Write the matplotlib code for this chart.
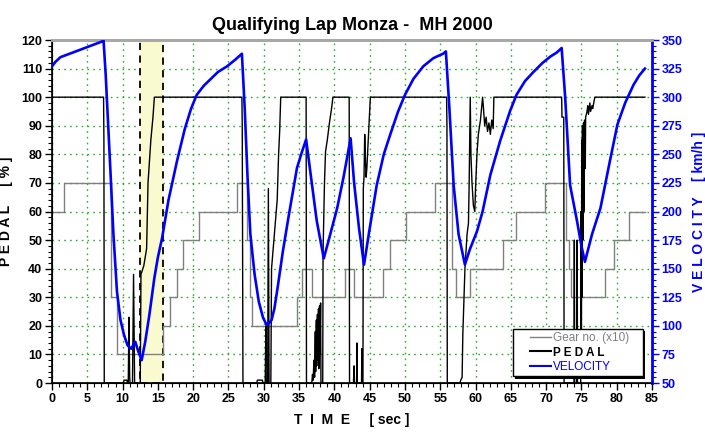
import matplotlib
matplotlib.use("Agg")
import matplotlib.pyplot as plt
import numpy as np
from matplotlib.patches import Rectangle
from matplotlib.lines import Line2D
from matplotlib.ticker import MultipleLocator

plt.rcParams['font.family'] = ['Liberation Sans', 'DejaVu Sans']

# ---------------- data ----------------
gear_t = [0, 1.7, 8.3, 9.2, 15.7, 16.7, 17.7, 18.6, 20.8, 26.2, 27.6, 28.0, 28.4,
          34.7, 35.4, 36.8, 41.5, 42.8, 46.9, 47.9, 50.2, 54.3, 56.6, 57.3, 59.2,
          63.9, 65.8, 69.9, 72.8, 73.2, 73.5, 78.3, 79.6, 81.7, 84.0]
gear_v = [60, 70, 30, 10, 20, 30, 40, 50, 60, 70, 50, 30, 20,
          30, 40, 30, 40, 30, 40, 50, 60, 70, 40, 30, 40,
          50, 60, 70, 50, 40, 30, 40, 50, 60, 60]

pedal_t = [0, 7.3, 7.35, 7.4, 10.1, 10.2, 10.6, 10.7, 10.8, 10.9, 11.0, 11.05, 11.4, 11.55, 11.7,
           12.5, 12.6, 13.0, 13.4, 13.6, 14.0, 14.3, 14.5,
           26.9, 26.95, 27.05, 29.0, 29.1, 29.8, 29.9, 30.2, 30.3, 30.35, 30.55, 30.65, 30.75,
           31.0, 31.1, 31.5, 31.9, 32.1, 32.25, 32.4,
           36.0, 36.05, 36.8, 36.9, 37.0, 37.1, 37.2, 37.3, 37.35, 37.45, 37.5, 37.6, 37.65,
           37.75, 37.8, 37.9, 37.95, 38.05, 38.1, 38.35, 38.4, 38.6, 38.75, 39.0, 39.3, 39.6, 39.8,
           42.1, 42.15, 42.7, 42.8, 42.85, 43.15, 43.2, 43.25, 43.85, 43.9, 43.95, 44.05,
           44.1, 44.2, 44.3, 44.4, 44.5, 44.6, 44.9, 45.1,
           55.9, 55.95, 56.0, 57.8, 57.9, 58.1, 58.2, 58.5, 58.8, 59.0, 59.1, 59.25, 59.35,
           59.5, 59.7, 59.9, 60.0, 60.2, 60.4, 60.7, 61.0, 61.1, 61.3, 61.5, 61.7, 61.9,
           62.1, 62.3, 62.5, 62.6,
           72.2, 72.25, 72.5, 72.55, 73.95, 74.0, 74.05, 74.35, 74.4, 74.45, 74.9, 74.95,
           75.0, 75.05, 75.1, 75.15, 75.2, 75.3, 75.35, 75.45, 75.55, 75.6, 75.8, 75.9,
           76.0, 76.2, 76.3, 76.5, 76.6, 76.9, 84.0]
pedal_v = [100, 100, 85, 0, 0, 1, 1, 0, 0, 23, 2, 0, 0, 38, 0,
           0, 38, 41, 47, 70, 85, 93, 100,
           100, 90, 0, 0, 1, 1, 0, 0, 20, 0, 0, 68, 0,
           0, 40, 52, 64, 80, 88, 100,
           100, 0, 0, 3, 1, 8, 2, 18, 4, 22, 6, 24, 8,
           26, 5, 27, 10, 28, 0, 0, 46, 70, 81, 85, 91, 96, 100,
           100, 0, 0, 6, 0, 0, 14, 0, 0, 12, 0, 0,
           68, 72, 87, 78, 72, 75, 90, 100,
           100, 90, 0, 0, 1, 2, 17, 40, 52, 56, 70, 100, 80,
           70, 62, 60, 68, 80, 87, 92, 100, 97, 90, 93, 88, 91,
           87, 92, 89, 100,
           100, 93, 93, 0, 0, 50, 0, 0, 50, 0, 0, 60,
           10, 85, 30, 90, 50, 91, 60, 92, 75, 93, 95, 97,
           94, 98, 95, 97, 96, 100, 100]

vel_t = [0, 0.5, 1.2, 2.5, 4.0, 5.5, 7.0, 7.3, 7.6, 8.0, 8.3, 8.7, 9.2, 9.7, 10.2, 10.7,
         11.2, 11.5, 11.8, 12.2, 12.7, 13.2, 13.8, 14.5, 15.0, 15.6, 16.5, 17.7, 18.8, 19.7,
         20.5, 21.5, 22.5, 23.5, 24.8, 26.0, 26.9, 27.3, 27.7, 28.1, 28.7, 29.3, 29.9,
         30.4, 30.7, 31.1, 31.5, 32.0, 32.7, 33.5, 34.7, 35.4, 36.0, 36.8, 37.5, 38.5,
         39.2, 40.4, 41.3, 42.3, 42.8, 43.5, 44.2, 45.0, 46.0, 47.0, 47.9, 49.0, 50.0,
         51.2, 52.6, 54.0, 54.5, 55.4, 55.8, 56.3, 56.9, 57.6, 58.5, 59.2, 60.2, 61.0,
         62.1, 63.5, 64.9, 65.8, 67.0, 68.2, 69.5, 70.6, 71.5, 72.2, 72.7, 73.4, 74.4,
         75.0, 75.5, 76.5, 77.7, 79.0, 80.1, 81.2, 82.4, 83.2, 84.0]
vel_v = [327, 331, 335, 338, 341.5, 345, 348.5, 349.5, 320, 270, 232, 180, 130, 105, 92, 83,
         80, 83, 86, 78, 70, 86, 110, 142, 160, 177, 210, 244, 272, 290,
         302, 310, 316, 322, 327, 333, 338, 290, 230, 180, 145, 121, 107,
         101, 102, 105, 115, 135, 165, 195, 238, 252, 263, 225, 192, 159,
         175, 203, 230, 264, 225, 185, 153.5, 185, 223, 250, 267, 287, 302,
         316, 327, 334, 335.5, 338, 340, 290, 223, 180, 153.5, 167, 182.5, 200,
         232, 262, 288, 302, 314, 322, 330, 335.5, 339, 343, 300, 223, 191,
         170, 156, 180, 203, 243, 276, 295, 311, 319, 325]

shade_span = (12.5, 15.7)

# ---------------- figure ----------------
fig = plt.figure(figsize=(7.05, 4.32), dpi=100)
ax = fig.add_axes([0.0738, 0.1134, 0.851, 0.794])
ax2 = ax.twinx()

ax.set_xlim(0, 85)
ax.set_ylim(0, 120)
ax2.set_ylim(50, 350)

# shaded region
ax.add_patch(Rectangle((shade_span[0], 0), shade_span[1] - shade_span[0], 120,
                       facecolor='#fafad0', edgecolor='black', linestyle=(0, (4, 3)),
                       linewidth=1.3, zorder=1, clip_on=False))

ax.grid(True, which='major', color='#33aa33', linestyle=(0, (1.2, 3)), linewidth=1.0, zorder=0)
ax.set_axisbelow(True)

l_gear, = ax.plot(gear_t, gear_v, drawstyle='steps-post', color='#808080', lw=1.0, zorder=2)
l_ped, = ax.plot(pedal_t, pedal_v, color='black', lw=1.0, zorder=3)
l_vel, = ax2.plot(vel_t, vel_v, color='#0000ff', lw=1.9, zorder=4,
                  solid_joinstyle='round')

# ticks
ax.xaxis.set_major_locator(MultipleLocator(5))
ax.xaxis.set_minor_locator(MultipleLocator(1))
ax.yaxis.set_major_locator(MultipleLocator(10))
ax.yaxis.set_minor_locator(MultipleLocator(2))
ax2.yaxis.set_major_locator(MultipleLocator(25))
ax2.yaxis.set_minor_locator(MultipleLocator(5))

ax.tick_params(axis='both', which='major', direction='out', length=5, width=1,
               labelsize=9, pad=2)
ax.tick_params(axis='both', which='minor', direction='out', length=3, width=0.8)
ax2.tick_params(axis='y', which='major', direction='out', length=5, width=1,
                colors='#0000ff', labelsize=9, pad=2)
ax2.tick_params(axis='y', which='minor', direction='out', length=3, width=0.8, colors='#0000ff')
for lab in ax.get_xticklabels() + ax.get_yticklabels() + ax2.get_yticklabels():
    lab.set_fontweight('bold')

# spines
for a in (ax, ax2):
    a.spines['top'].set_color('#a8a8a8')
    a.spines['top'].set_linewidth(2)
ax2.spines['right'].set_color('#0000ff')
ax2.spines['right'].set_linewidth(2)
ax.spines['left'].set_linewidth(1.2)
ax.spines['bottom'].set_linewidth(1.2)

ax.set_title('Qualifying Lap Monza -  MH 2000', fontsize=13, fontweight='bold', pad=7)
ax.set_xlabel('T  I  M  E     [ sec ]', fontsize=10, fontweight='bold', labelpad=6)
ax.set_ylabel('P E D A L     [ % ]', fontsize=10, fontweight='bold')
ax.yaxis.set_label_coords(-0.065, 0.5)
ax2.set_ylabel('V E L O C I T Y    [ km/h ]', fontsize=10, fontweight='bold',
               color='#0000ff')
ax2.yaxis.set_label_coords(1.066, 0.5)

handles = [Line2D([], [], color='#808080', lw=1.0),
           Line2D([], [], color='black', lw=1.5),
           Line2D([], [], color='#0000ff', lw=1.5)]
labels = ['Gear no. (x10)   ', 'P E D A L', 'VELOCITY']
leg = ax2.legend(handles, labels, loc='lower right', bbox_to_anchor=(0.9845, 0.019),
                 borderaxespad=0,
                 fontsize=8.5, frameon=True, fancybox=False, framealpha=1,
                 edgecolor='black', handlelength=2.92, handletextpad=0.2,
                 borderpad=0.3, labelspacing=0.2,
                 shadow={'ox': 1.5, 'oy': -1.5, 'facecolor': 'black',
                         'edgecolor': 'none', 'alpha': 1.0})
leg.get_frame().set_linewidth(1.0)
leg.set_zorder(10)
for ll in leg.get_lines():
    xd = np.asarray(ll.get_xdata(), dtype=float)
    if xd.size >= 2:
        x0, x1 = xd.min(), xd.max()
        ll.set_xdata(np.linspace(x0 + 0.39 * (x1 - x0), x1, xd.size))
txts = leg.get_texts()
txts[0].set_color('#808080')
txts[1].set_color('black')
txts[1].set_fontweight('bold')
txts[2].set_color('#0000ff')

fig.savefig('out.png', dpi=100)
